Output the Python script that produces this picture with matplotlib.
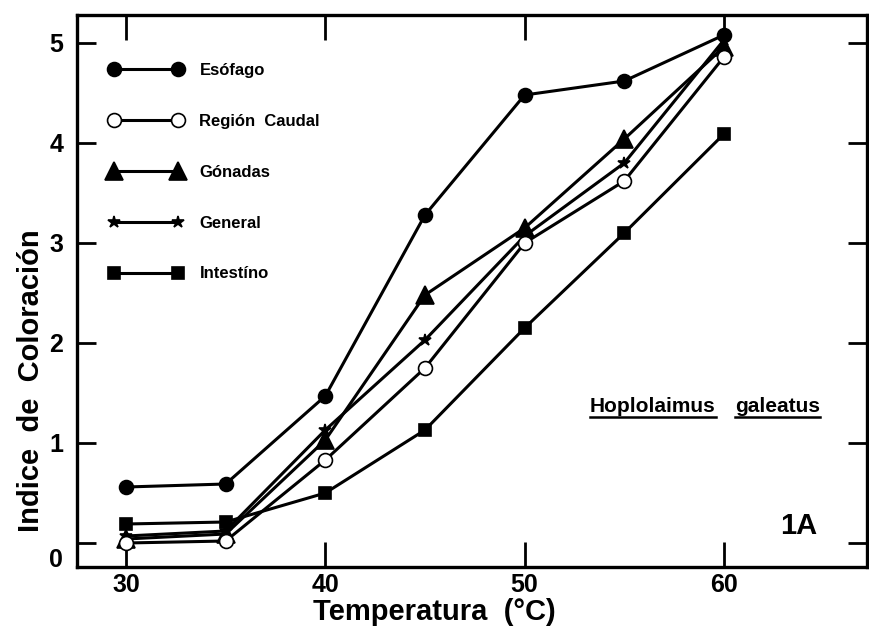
import matplotlib
matplotlib.use("Agg")
import matplotlib.pyplot as plt
from matplotlib.lines import Line2D

plt.rcParams['font.family'] = ['Liberation Sans', 'DejaVu Sans']

temps = [30, 35, 40, 45, 50, 55, 60]
esofago = [0.56, 0.59, 1.47, 3.28, 4.48, 4.62, 5.08]
region_caudal = [0.00, 0.02, 0.83, 1.75, 3.00, 3.62, 4.86]
gonadas = [0.04, 0.09, 1.03, 2.48, 3.15, 4.04, 4.96]
general = [0.07, 0.12, 1.13, 2.03, 3.07, 3.80, 5.03]
intestino = [0.19, 0.21, 0.50, 1.13, 2.15, 3.10, 4.09]

labels = ["Esófago", "Región  Caudal", "Gónadas", "General", "Intestíno"]
xticks = [30, 40, 50, 60]
xticklabels = ["30", "40", "50", "60"]
yticks = [0, 1, 2, 3, 4, 5]
yticklabels = ["", "1", "2", "3", "4", "5"]

H = 637
fig = plt.figure(figsize=(8.7, 6.37), dpi=100)
ax = fig.add_axes([77/870, 1-567/637, 790/870, 552/637])

lw = 2.2
series = [
    (esofago, dict(marker='o', markersize=10, markerfacecolor='black')),
    (region_caudal, dict(marker='o', markersize=10, markerfacecolor='white')),
    (gonadas, dict(marker='^', markersize=13, markerfacecolor='black')),
    (general, dict(marker='*', markersize=9, markerfacecolor='black')),
    (intestino, dict(marker='s', markersize=9, markerfacecolor='black')),
]
order = [4, 0, 2, 3, 1]
handles = [None]*5
for i in order:
    vals, st = series[i]
    h, = ax.plot(temps, vals, color='black', linewidth=lw, markeredgecolor='black',
                 markeredgewidth=1.2, label=labels[i], zorder=3 + (1 if i == 1 else 0), **st)
    handles[i] = h

ax.set_xlim(27.54, 67.18)
ax.set_ylim(-0.24, 5.28)

for s in ax.spines.values():
    s.set_linewidth(2.4)

ax.set_xticks(xticks)
ax.set_xticklabels(xticklabels)
ax.set_yticks(yticks)
ax.set_yticklabels(yticklabels)
ax.tick_params(axis='x', direction='in', length=18, width=2.0, top=True, bottom=True,
               labelsize=18, pad=4)
ax.tick_params(axis='y', direction='in', length=14, width=2.0, left=True, right=True,
               labelsize=18, pad=10)
for t in ax.get_xticklabels() + ax.get_yticklabels():
    t.set_fontweight('bold')
ax.text(-0.018, -0.17, "0", transform=ax.get_yaxis_transform(), ha='right', va='center',
        fontsize=18, fontweight='bold')

ax.set_xlabel("Temperatura  (°C)", fontsize=21, fontweight='bold')
ax.xaxis.set_label_coords(0.453, -0.056)
ax.set_ylabel("Indice  de  Coloración", fontsize=21, fontweight='bold')
ax.yaxis.set_label_coords(-0.041, 0.337)

leg = ax.legend(handles=handles, loc='upper left', bbox_to_anchor=(0.022, 0.94),
                frameon=False, numpoints=2, handlelength=4.4, labelspacing=2.15,
                handletextpad=1.0, prop=dict(size=12, weight='bold'))

# species label with underlines
t1 = ax.text(590, H-412, "Hoplolaimus", transform=None, fontsize=15, fontweight='bold',
             ha='left', va='baseline')
t2 = ax.text(735, H-412, "galeatus", transform=None, fontsize=15, fontweight='bold',
             ha='left', va='baseline')
ax.text(799, H-526, "1A", transform=None, fontsize=21, fontweight='bold', ha='center', va='center')

fig.canvas.draw()
r = fig.canvas.get_renderer()
for t in (t1, t2):
    bb = t.get_window_extent(r)
    yline = H - 417
    fig.add_artist(Line2D([bb.x0, bb.x1], [yline, yline], transform=None,
                          color='black', linewidth=1.8))

fig.savefig("out.png", dpi=100)
